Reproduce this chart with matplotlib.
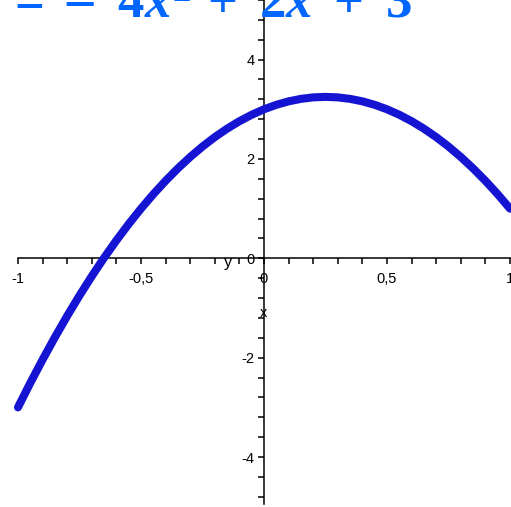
import matplotlib
matplotlib.use("Agg")
import matplotlib.pyplot as plt
import numpy as np

# data
x_vals = [-1.0, -0.95, -0.9, -0.85, -0.8, -0.75, -0.7, -0.65, -0.6, -0.55, -0.5,
          -0.45, -0.4, -0.35, -0.3, -0.25, -0.2, -0.15, -0.1, -0.05, 0.0,
          0.05, 0.1, 0.15, 0.2, 0.25, 0.3, 0.35, 0.4, 0.45, 0.5,
          0.55, 0.6, 0.65, 0.7, 0.75, 0.8, 0.85, 0.9, 0.95, 1.0]
y_vals = [-3.0, -2.51, -2.04, -1.59, -1.16, -0.75, -0.36, 0.01, 0.36, 0.69, 1.0,
          1.29, 1.56, 1.81, 2.04, 2.25, 2.44, 2.61, 2.76, 2.89, 3.0,
          3.09, 3.16, 3.21, 3.24, 3.25, 3.24, 3.21, 3.16, 3.09, 3.0,
          2.89, 2.76, 2.61, 2.44, 2.25, 2.04, 1.81, 1.56, 1.29, 1.0]
x_ticks = [-1, -0.5, 0, 0.5, 1]
x_tick_labels = ["-1", "-0,5", "0", "0,5", "1"]
y_ticks = [-4, -2, 0, 2, 4]
y_tick_labels = ["-4", "-2", "0", "2", "4"]
title_text = r"$y\ \ =\ \mathrm{–}\ \;4x^2\,+\ 2x\ +\ 3$"

plt.rcParams['mathtext.fontset'] = 'custom'
plt.rcParams['mathtext.rm'] = 'Liberation Serif:bold'
plt.rcParams['mathtext.it'] = 'Liberation Serif:bold:italic'
plt.rcParams['mathtext.bf'] = 'Liberation Serif:bold'
plt.rcParams['font.family'] = ['Liberation Sans', 'DejaVu Sans']

fig = plt.figure(figsize=(5.11, 5.07), dpi=100)
ax = fig.add_axes([0, 0, 1, 1])
ax.set_xlim(-1.073, 1.004)
ax.set_ylim(-5.005, 5.186)

for s in ['top', 'right']:
    ax.spines[s].set_visible(False)
ax.spines['left'].set_position(('data', 0))
ax.spines['bottom'].set_position(('data', 0))
ax.spines['left'].set_bounds(-4.95, 5.2)
ax.spines['bottom'].set_bounds(-1, 1.004)
for s in ['left', 'bottom']:
    ax.spines[s].set_linewidth(1.1)

ax.set_xticks(x_ticks)
ax.set_xticklabels(x_tick_labels)
ax.set_xticks(np.arange(-1, 1.01, 0.1), minor=True)
ax.set_yticks(y_ticks)
ax.set_yticklabels(y_tick_labels)
ax.set_yticks(np.arange(-4.8, 5.3, 0.4), minor=True)
ax.tick_params(axis='both', which='both', direction='out', length=4, width=1.1, labelsize=10.5)
ax.tick_params(axis='x', pad=6)
ax.tick_params(axis='y', pad=3)

ax.plot(x_vals, y_vals, color='#1414d2', lw=5.8, solid_capstyle='round', zorder=3)

ax.text(-0.147, -0.08, "y", ha='center', va='center', fontsize=12)
ax.text(0.0, -1.1, "x", ha='center', va='center', fontsize=10.5)

fig.text(412 / 511, 1 - 18 / 507, title_text, ha='right', va='baseline',
         fontsize=38, color='#0066ff')

fig.savefig("out.png", dpi=100, facecolor='white')
